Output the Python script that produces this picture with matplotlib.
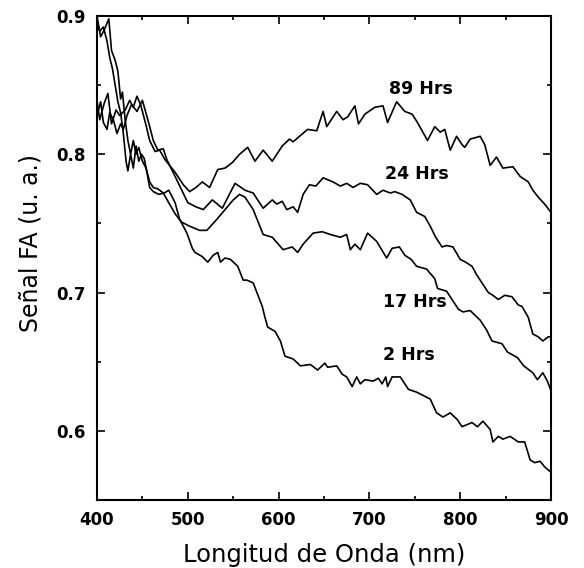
import matplotlib
matplotlib.use("Agg")
import matplotlib.pyplot as plt
from matplotlib.ticker import MultipleLocator

# ---- data ----
wl_89 = [400, 403, 408, 412, 416, 421, 425, 431, 436, 440, 444, 448, 454, 458, 464, 469, 475, 486,
         495, 502, 509, 516, 520, 524, 533, 541, 549, 557, 566, 574, 583, 593, 604, 612, 616, 623,
         632, 642, 649, 653, 664, 671, 676, 684, 688, 695, 706, 715, 720, 730, 739, 747, 752, 764,
         772, 778, 783, 789, 796, 802, 805, 811, 822, 827, 833, 840, 847, 858, 866, 875, 880, 886,
         893, 900]
fa_89 = [0.839, 0.825, 0.837, 0.844, 0.822, 0.832, 0.828, 0.832, 0.839, 0.834, 0.842, 0.836, 0.821,
         0.810, 0.802, 0.803, 0.796, 0.787, 0.778, 0.773, 0.776, 0.780, 0.778, 0.776, 0.789, 0.790,
         0.794, 0.800, 0.805, 0.795, 0.803, 0.795, 0.806, 0.811, 0.809, 0.813, 0.818, 0.817, 0.831,
         0.820, 0.831, 0.825, 0.827, 0.835, 0.822, 0.829, 0.834, 0.835, 0.823, 0.838, 0.831, 0.829,
         0.824, 0.810, 0.820, 0.816, 0.818, 0.803, 0.813, 0.807, 0.805, 0.811, 0.813, 0.807, 0.792,
         0.798, 0.790, 0.791, 0.784, 0.780, 0.774, 0.769, 0.764, 0.758]

wl_24 = [400, 404, 407, 411, 414, 418, 422, 426, 429, 433, 438, 444, 450, 456, 462, 467, 473, 477,
         486, 500, 509, 517, 527, 538, 552, 563, 572, 583, 593, 598, 604, 609, 616, 621, 627, 634,
         641, 649, 660, 668, 675, 682, 690, 698, 708, 715, 723, 728, 736, 745, 752, 761, 767, 773,
         780, 785, 792, 800, 806, 813, 818, 824, 831, 836, 842, 849, 857, 864, 868, 875, 880, 886,
         891, 897, 900]
fa_24 = [0.828, 0.838, 0.823, 0.818, 0.830, 0.825, 0.815, 0.822, 0.818, 0.828, 0.836, 0.831, 0.839,
         0.825, 0.810, 0.803, 0.804, 0.796, 0.784, 0.765, 0.762, 0.760, 0.767, 0.761, 0.779, 0.774,
         0.772, 0.761, 0.767, 0.764, 0.766, 0.760, 0.762, 0.758, 0.771, 0.778, 0.777, 0.783, 0.780,
         0.777, 0.779, 0.776, 0.779, 0.778, 0.771, 0.774, 0.772, 0.773, 0.771, 0.767, 0.758, 0.755,
         0.748, 0.740, 0.733, 0.734, 0.733, 0.724, 0.722, 0.719, 0.713, 0.707, 0.700, 0.698, 0.695,
         0.698, 0.697, 0.691, 0.690, 0.682, 0.670, 0.668, 0.665, 0.668, 0.668]

wl_17 = [400, 404, 408, 413, 416, 420, 423, 426, 428, 431, 434, 437, 440, 443, 446, 450, 454, 458,
         462, 467, 473, 479, 486, 493, 502, 513, 521, 532, 541, 550, 557, 563, 572, 583, 593, 605,
         615, 621, 627, 638, 648, 657, 668, 675, 679, 684, 690, 698, 708, 719, 725, 733, 739, 746,
         752, 763, 772, 775, 785, 792, 798, 803, 811, 822, 829, 835, 846, 852, 863, 870, 880, 885,
         891, 896, 900]
fa_17 = [0.900, 0.885, 0.890, 0.898, 0.875, 0.868, 0.860, 0.840, 0.845, 0.825, 0.810, 0.800, 0.810,
         0.800, 0.805, 0.795, 0.790, 0.780, 0.776, 0.775, 0.772, 0.765, 0.757, 0.751, 0.748, 0.745,
         0.745, 0.753, 0.760, 0.767, 0.771, 0.769, 0.760, 0.742, 0.740, 0.731, 0.733, 0.729, 0.735,
         0.743, 0.744, 0.742, 0.740, 0.742, 0.731, 0.735, 0.731, 0.743, 0.737, 0.725, 0.732, 0.733,
         0.727, 0.724, 0.719, 0.717, 0.710, 0.703, 0.701, 0.694, 0.688, 0.686, 0.687, 0.680, 0.673,
         0.665, 0.663, 0.657, 0.653, 0.647, 0.642, 0.637, 0.642, 0.636, 0.629]

wl_2 = [400, 403, 407, 411, 414, 417, 420, 423, 426, 429, 432, 434, 437, 440, 443, 446, 449, 452,
        455, 458, 462, 468, 474, 479, 486, 491, 499, 505, 508, 516, 522, 528, 533, 536, 541, 547,
        555, 561, 565, 572, 582, 585, 588, 596, 602, 607, 616, 624, 635, 643, 651, 654, 664, 670,
        675, 681, 686, 690, 695, 704, 710, 714, 718, 720, 725, 734, 743, 752, 767, 774, 781, 789,
        797, 802, 813, 819, 825, 833, 836, 842, 847, 855, 864, 871, 877, 882, 888, 893, 900]
fa_2 = [0.895, 0.889, 0.892, 0.882, 0.870, 0.862, 0.850, 0.838, 0.830, 0.815, 0.795, 0.788, 0.800,
        0.790, 0.806, 0.795, 0.800, 0.797, 0.787, 0.776, 0.773, 0.771, 0.772, 0.774, 0.765, 0.753,
        0.743, 0.732, 0.729, 0.726, 0.722, 0.727, 0.729, 0.722, 0.725, 0.724, 0.719, 0.709, 0.709,
        0.707, 0.690, 0.682, 0.675, 0.672, 0.665, 0.654, 0.652, 0.647, 0.648, 0.644, 0.649, 0.646,
        0.647, 0.641, 0.639, 0.632, 0.639, 0.634, 0.637, 0.636, 0.638, 0.634, 0.639, 0.632, 0.639,
        0.639, 0.630, 0.628, 0.623, 0.613, 0.610, 0.613, 0.608, 0.603, 0.606, 0.603, 0.607, 0.601,
        0.592, 0.596, 0.594, 0.596, 0.592, 0.592, 0.579, 0.577, 0.578, 0.574, 0.570]

labels = ["89 Hrs", "24 Hrs", "17 Hrs", "2 Hrs"]
label_x = [757, 752, 750, 744]
label_y = [0.847, 0.786, 0.693, 0.655]

x_ticks = [400, 500, 600, 700, 800, 900]
y_ticks = [0.6, 0.7, 0.8, 0.9]

# ---- figure ----
fig = plt.figure(figsize=(5.84, 5.68), dpi=100)
ax = fig.add_axes([97 / 584, 1 - 500 / 568, (551 - 97) / 584, (500 - 16) / 568])

for wl, fa in [(wl_89, fa_89), (wl_24, fa_24), (wl_17, fa_17), (wl_2, fa_2)]:
    ax.plot(wl, fa, color="black", lw=1.2)

for t, xx, yy in zip(labels, label_x, label_y):
    ax.text(xx, yy, t, ha="center", va="center", fontsize=12.5, fontweight="bold",
            family="DejaVu Sans")

ax.set_xlim(400, 900)
ax.set_ylim(0.55, 0.9)
ax.set_xticks(x_ticks)
ax.set_yticks(y_ticks)
ax.set_xticklabels([str(v) for v in x_ticks])
ax.set_yticklabels([f"{v:.1f}" for v in y_ticks])
ax.xaxis.set_minor_locator(MultipleLocator(50))
ax.yaxis.set_minor_locator(MultipleLocator(0.05))
ax.tick_params(which="both", direction="in", top=True, right=True, width=1.2)
ax.tick_params(which="major", length=6, labelsize=12, pad=8)
ax.tick_params(which="minor", length=3)
for lab in ax.get_xticklabels() + ax.get_yticklabels():
    lab.set_fontweight("bold")
for s in ax.spines.values():
    s.set_linewidth(1.5)

ax.set_xlabel("Longitud de Onda (nm)", fontsize=17.5, labelpad=10)
ax.set_ylabel("Señal FA (u. a.)", fontsize=17)
ax.yaxis.set_label_coords(-0.12, 0.53)

fig.savefig("out.png", dpi=100)
